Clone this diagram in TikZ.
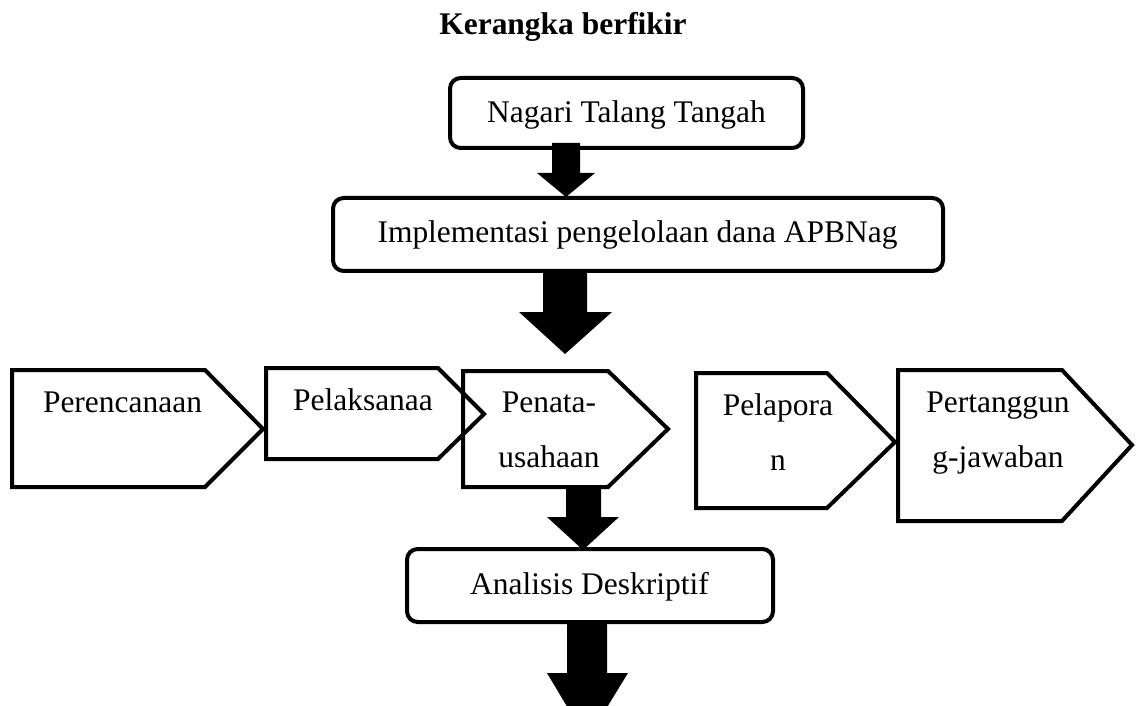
\documentclass[tikz,border=0pt]{standalone}
\usepackage{fontspec}
\setmainfont{Liberation Serif}
\begin{document}
\begin{tikzpicture}[x=0.75pt,y=-0.75pt,
  lbl/.style={font=\fontsize{23.6}{28}\selectfont, inner sep=0pt, anchor=base},
  ttl/.style={font=\bfseries\fontsize{23.6}{28}\selectfont, inner sep=0pt, anchor=base},
  shp/.style={draw=black, line width=3pt, line join=miter},
  rbox/.style={draw=black, line width=3pt, rounded corners=8pt},
  blk/.style={fill=black}]
\clip (0,0) rectangle (1136,706);
\fill[white] (0,0) rectangle (1136,706);

% title
\node[ttl] (title) at (563,35) {Kerangka berfikir};

% top boxes
\draw[rbox] (450,78) rectangle (803,148);
\node[lbl] (nagari) at (626.5,123) {Nagari Talang Tangah};
\draw[rbox] (333,198) rectangle (943,271);
\node[lbl] (impl) at (637.5,243) {Implementasi pengelolaan dana APBNag};

% pentagons
\draw[shp] (12,370) -- (205,370) -- (263,429) -- (205,487) -- (12,487) -- cycle;
\node[lbl] (pere) at (122.5,412) {Perencanaan};
\draw[shp] (266,368) -- (438,368) -- (484,414) -- (438,459) -- (266,459) -- cycle;
\node[lbl] (pelak) at (363,410) {Pelaksanaa};
\draw[shp] (463,371) -- (608,371) -- (668,429) -- (608,487) -- (463,487) -- cycle;
\node[lbl] (pena1) at (549,412) {Penata-};
\node[lbl] (pena2) at (549,467) {usahaan};
\draw[shp] (696,373) -- (827,373) -- (895,442) -- (827,508) -- (696,508) -- cycle;
\node[lbl] (pela1) at (778,415) {Pelapora};
\node[lbl] (pela2) at (778,470) {n};
\draw[shp] (898,370) -- (1062,370) -- (1132,445) -- (1062,521) -- (898,521) -- cycle;
\node[lbl] (pert1) at (998,412) {Pertanggun};
\node[lbl] (pert2) at (998,467) {g-jawaban};

% bottom box
\draw[rbox] (407,549) rectangle (773,622);
\node[lbl] (anal) at (589.5,594) {Analisis Deskriptif};

% block arrows
\fill[blk] (552,143) -- (580,143) -- (580,173) -- (595,173) -- (566,197) -- (537,173) -- (552,173) -- cycle;
\fill[blk] (543,272) -- (587,272) -- (587,312) -- (612,312) -- (565,354) -- (519,312) -- (543,312) -- cycle;
\fill[blk] (566,487) -- (601,487) -- (601,517) -- (619,517) -- (583,550) -- (547,517) -- (566,517) -- cycle;
\fill[blk] (567,622) -- (607,622) -- (607,673) -- (628,673) -- (587,740) -- (547,673) -- (567,673) -- cycle;
\end{tikzpicture}
\end{document}
